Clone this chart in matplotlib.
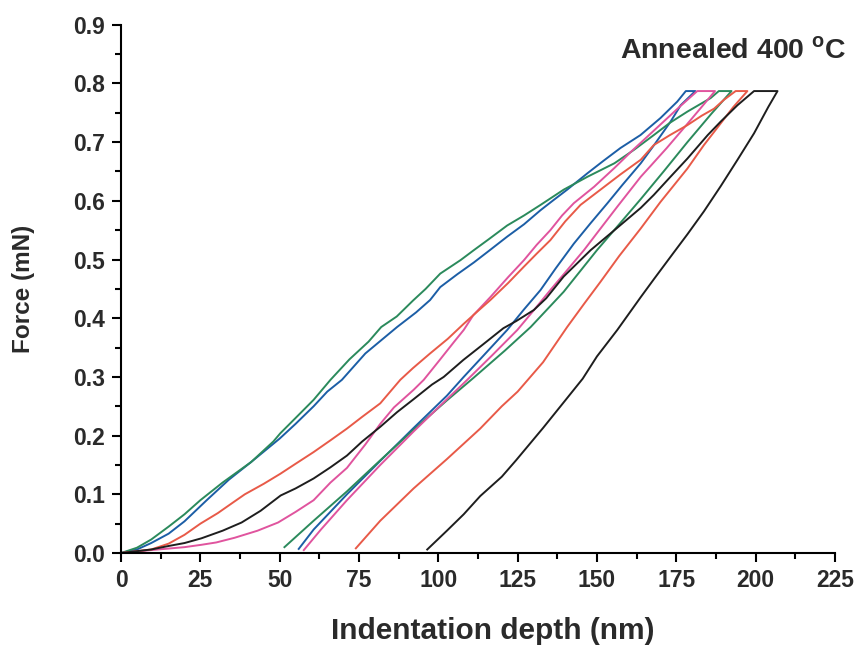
import matplotlib.pyplot as plt
from matplotlib.ticker import MultipleLocator

plt.rcParams['font.family'] = ['Liberation Sans', 'DejaVu Sans']
plt.rcParams['font.weight'] = 'bold'
plt.rcParams['mathtext.fontset'] = 'custom'
plt.rcParams['mathtext.rm'] = 'Liberation Sans:bold'
plt.rcParams['mathtext.bf'] = 'Liberation Sans:bold'

# DATOS (nm, mN) - carga, meseta, descarga
blue_h = [0, 5, 9.5, 15, 20, 27, 34, 41, 50, 55, 60.7, 65, 69.6, 77, 87, 93, 97.4, 100.6, 106,
          111.2, 116, 121.7, 127, 132.2, 136, 140.6, 147, 152, 157.4, 163.7, 170, 175.3, 178,
          181,
          176.4, 173.2, 168, 163.8, 158, 153.3, 148, 142.7, 137, 132.2, 127, 121.7, 114, 108,
          102.7, 92.2, 81.7, 71.2, 60.7, 56]
blue_f = [0, 0.006, 0.017, 0.033, 0.054, 0.09, 0.125, 0.155, 0.195, 0.22, 0.25, 0.275, 0.295,
          0.34, 0.385, 0.41, 0.431, 0.453, 0.475, 0.495, 0.515, 0.539, 0.56, 0.584, 0.6, 0.619,
          0.647, 0.668, 0.69, 0.712, 0.741, 0.769, 0.787,
          0.787,
          0.763, 0.735, 0.695, 0.664, 0.627, 0.596, 0.562, 0.527, 0.485, 0.448, 0.415, 0.38,
          0.335, 0.3, 0.268, 0.213, 0.157, 0.1, 0.04, 0.007]

green_h = [0, 5, 9.5, 15, 20, 25, 32, 41, 48, 50.2, 55, 60.7, 66, 72, 78, 82, 86.9, 92, 96,
           100.6, 107, 111.2, 116, 121.7, 127, 132.2, 139.5, 147, 155.5, 161.7, 167.9, 173,
           178.5, 185.8, 188.4,
           192.4,
           186, 178.5, 171, 163.8, 157, 150, 139.5, 129.1, 121, 111, 102.7, 92.2, 81.7, 71.2,
           60.7, 51.5]
green_f = [0, 0.009, 0.023, 0.045, 0.066, 0.09, 0.12, 0.155, 0.19, 0.204, 0.23, 0.261, 0.295,
           0.33, 0.36, 0.385, 0.403, 0.43, 0.45, 0.476, 0.499, 0.516, 0.535, 0.558, 0.575,
           0.593, 0.619, 0.641, 0.664, 0.687, 0.712, 0.733, 0.752, 0.775, 0.787,
           0.787,
           0.748, 0.7, 0.65, 0.603, 0.56, 0.516, 0.445, 0.385, 0.345, 0.298, 0.26, 0.21, 0.158,
           0.105, 0.055, 0.01]

pink_h = [0, 9.5, 20, 25.3, 30, 35.8, 43, 49.5, 55, 60.7, 66, 71.2, 77, 81.7, 86, 92.2, 95.4,
          100.6, 105, 108, 111, 116.4, 122, 127, 131, 135.3, 139, 142.7, 149.1, 155.5, 161, 167,
          172, 176, 181.6,
          187.2,
          183, 178, 172, 167, 163.8, 156.4, 150, 145.9, 140, 135.3, 130, 124.9, 117, 109.1,
          102.7, 92.2, 81.7, 71.2, 63, 57.6]
pink_f = [0, 0.005, 0.01, 0.014, 0.018, 0.026, 0.038, 0.052, 0.07, 0.09, 0.12, 0.145, 0.185,
          0.22, 0.248, 0.278, 0.295, 0.33, 0.36, 0.38, 0.405, 0.436, 0.47, 0.499, 0.525, 0.55,
          0.575, 0.596, 0.624, 0.656, 0.685, 0.715, 0.74, 0.76, 0.787,
          0.787,
          0.76, 0.728, 0.69, 0.66, 0.641, 0.59, 0.545, 0.516, 0.478, 0.448, 0.413, 0.38, 0.337,
          0.295, 0.262, 0.207, 0.15, 0.09, 0.04, 0.005]

red_h = [0, 9.5, 15, 20, 25, 30.5, 35, 39, 45, 50.2, 55, 60.7, 66, 71.2, 76, 81.7, 88, 92,
         97.4, 103, 107.9, 112, 116.4, 122, 127, 131, 135.3, 140, 144.8, 151.1, 157.4, 163.8,
         167.9, 173, 178.5, 183, 186.9, 190, 193.7,
         197.4,
         193, 188, 183.7, 178.5, 170, 163.8, 157, 151.1, 146, 140.6, 133, 125, 120, 113.2,
         102.7, 92.2, 81.7, 74]
red_f = [0, 0.006, 0.016, 0.031, 0.05, 0.068, 0.085, 0.1, 0.118, 0.135, 0.152, 0.172, 0.192,
         0.212, 0.232, 0.255, 0.295, 0.315, 0.34, 0.365, 0.39, 0.41, 0.431, 0.46, 0.488, 0.51,
         0.533, 0.565, 0.593, 0.619, 0.645, 0.67, 0.695, 0.712, 0.729, 0.745, 0.757, 0.772,
         0.787,
         0.787,
         0.76, 0.725, 0.695, 0.655, 0.598, 0.553, 0.506, 0.462, 0.425, 0.385, 0.325, 0.275,
         0.25, 0.212, 0.16, 0.11, 0.055, 0.008]

black_h = [0, 9.5, 15, 20, 25.3, 32, 38, 44, 50.3, 55, 60.7, 66, 71.2, 76, 81.7, 87, 92.2, 98,
           101.7, 107.9, 114, 120.5, 124.5, 130.1, 134, 139.5, 148, 155.5, 163.8, 167.9, 173,
           178.5, 184.9, 189, 194.3, 199.5,
           206.9,
           204, 199.5, 194.3, 189, 183.7, 178.5, 174.2, 168, 163.8, 156.4, 150, 145.5, 140, 133,
           124.5, 120, 113.2, 108, 102.7, 96.5]
black_f = [0, 0.006, 0.012, 0.017, 0.025, 0.038, 0.052, 0.072, 0.098, 0.11, 0.127, 0.146,
           0.166, 0.19, 0.215, 0.24, 0.262, 0.287, 0.3, 0.329, 0.355, 0.383, 0.395, 0.414, 0.434,
           0.471, 0.516, 0.55, 0.588, 0.61, 0.64, 0.672, 0.712, 0.735, 0.763, 0.787,
           0.787,
           0.76, 0.715, 0.67, 0.625, 0.582, 0.543, 0.512, 0.467, 0.436, 0.38, 0.335, 0.297,
           0.26, 0.213, 0.158, 0.13, 0.097, 0.066, 0.038, 0.006]

curves = [(blue_h, blue_f, '#1c5ea6'),
          (green_h, green_f, '#2b8a5c'),
          (pink_h, pink_f, '#e0549e'),
          (red_h, red_f, '#e85a48'),
          (black_h, black_f, '#1e1e1e')]

# FIGURA
fig = plt.figure(figsize=(8.56, 6.51), dpi=100)
ax = fig.add_axes([0.1414, 0.1505, 0.834, 0.8115])

for h, f, c in curves:
    ax.plot(h, f, color=c, lw=1.4)

ax.set_xlim(0, 225)
ax.set_ylim(0, 0.9)
ax.spines['top'].set_visible(False)
ax.spines['right'].set_visible(False)
ax.spines['left'].set_linewidth(1.5)
ax.spines['bottom'].set_linewidth(1.5)

ax.xaxis.set_major_locator(MultipleLocator(25))
ax.xaxis.set_minor_locator(MultipleLocator(12.5))
ax.yaxis.set_major_locator(MultipleLocator(0.1))
ax.yaxis.set_minor_locator(MultipleLocator(0.05))
ax.yaxis.set_major_formatter(lambda v, p: f'{v:.1f}')
ax.tick_params(which='major', direction='out', length=6.5, width=1.5, labelsize=16.5,
               labelcolor='#2a2a2a', pad=5)
ax.tick_params(which='minor', direction='out', length=4, width=1.5)

ax.set_xlabel('Indentation depth (nm)', fontsize=21.5, fontweight='bold', color='#2a2a2a')
ax.set_ylabel('Force (mN)', fontsize=17.5, fontweight='bold', color='#2a2a2a')
ax.xaxis.set_label_coords(0.521, -0.122)
ax.yaxis.set_label_coords(-0.12, 0.5)

ax.text(157.4, 0.843, r'Annealed 400 $^{\rm o}$C', fontsize=20.5, fontweight='bold',
        color='#2a2a2a', clip_on=False)

fig.savefig('out.png', dpi=100)
